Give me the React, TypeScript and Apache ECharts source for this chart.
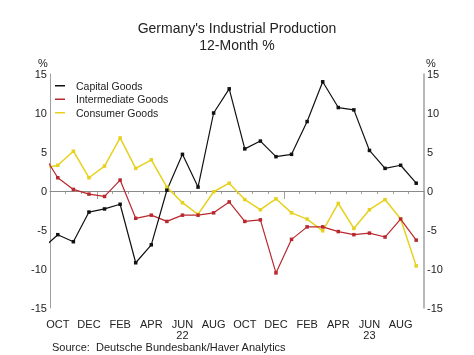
import React, { useEffect, useRef } from 'react';
import * as echarts from 'echarts';

// Months (the first one, SEP-21, lies just left of the plot and is clipped)
const months = ['SEP-21', 'OCT-21', 'NOV-21', 'DEC-21', 'JAN-22', 'FEB-22', 'MAR-22', 'APR-22', 'MAY-22', 'JUN-22', 'JUL-22', 'AUG-22', 'SEP-22', 'OCT-22', 'NOV-22', 'DEC-22', 'JAN-23', 'FEB-23', 'MAR-23', 'APR-23', 'MAY-23', 'JUN-23', 'JUL-23', 'AUG-23', 'SEP-23'];
const capital = [-7.4, -5.6, -6.5, -2.7, -2.3, -1.7, -9.2, -6.9, 0.1, 4.7, 0.5, 10.0, 13.1, 5.4, 6.4, 4.4, 4.7, 8.9, 14.0, 10.7, 10.4, 5.2, 2.9, 3.3, 1.0];
const intermediate = [4.9, 1.7, 0.2, -0.4, -0.7, 1.4, -3.5, -3.1, -3.9, -3.1, -3.1, -2.8, -1.4, -3.9, -3.7, -10.5, -6.2, -4.6, -4.6, -5.2, -5.6, -5.4, -5.9, -3.6, -6.3];
const consumer = [2.9, 3.3, 5.1, 1.7, 3.2, 6.8, 2.9, 4.0, 0.5, -1.5, -3.0, -0.1, 1.0, -1.1, -2.4, -1.0, -2.8, -3.6, -5.1, -1.6, -4.8, -2.4, -1.1, -3.6, -9.6];
const yMin = -15;
const yMax = 15;
const yStep = 5;

const FONT = "'Liberation Sans', Arial, Helvetica, sans-serif";
const AXIS_COLOR = '#a0a0a0';

export default function App() {
  const ref = useRef<HTMLDivElement>(null);
  useEffect(() => {
    if (!ref.current) return;
    const chart = echarts.init(ref.current, undefined, { renderer: 'svg' });
    const categories = months.slice(1);
    const toPts = (vals: number[]) => vals.map((v, i) => [i - 0.5, v]);
    const lineSeries = (name: string, vals: number[], color: string, width: number) => ({
      name,
      type: 'line',
      xAxisIndex: 2,
      yAxisIndex: 0,
      data: toPts(vals),
      clip: true,
      symbol: 'rect',
      symbolSize: 3.5,
      showSymbol: true,
      itemStyle: { color },
      lineStyle: { color, width },
      z: 3,
    });
    const option: any = {
      animation: false,
      textStyle: { fontFamily: FONT },
      title: {
        text: "Germany's Industrial Production\n12-Month %",
        left: 'center',
        top: 14,
        textStyle: { fontSize: 14, fontWeight: 'normal', color: '#222', lineHeight: 17, fontFamily: FONT },
      },
      legend: {
        orient: 'vertical',
        left: 55,
        top: 79,
        padding: 0,
        itemWidth: 10,
        itemHeight: 1.5,
        itemGap: 0,
        data: [
          { name: 'Capital Goods', icon: 'rect' },
          { name: 'Intermediate Goods', icon: 'rect' },
          { name: 'Consumer Goods', icon: 'rect' },
        ],
        textStyle: { fontSize: 10.5, color: '#222', lineHeight: 13.5, padding: [0, 0, 0, 6], fontFamily: FONT },
      },
      grid: { left: 50, right: 50, top: 74, bottom: 47 },
      xAxis: [
        {
          type: 'category',
          data: categories,
          boundaryGap: true,
          position: 'bottom',
          axisLine: { show: true, lineStyle: { color: AXIS_COLOR, width: 1 } },
          axisTick: { show: true, interval: 0, length: 3, lineStyle: { color: AXIS_COLOR } },
          axisLabel: {
            interval: (index: number) => index % 2 === 0,
            margin: 10,
            fontSize: 11,
            color: '#222',
            lineHeight: 11,
            fontFamily: FONT,
            formatter: (value: string) => {
              const [m, y] = value.split('-');
              return m === 'JUN' ? `${m}\n${y}` : m;
            },
          },
          splitLine: { show: false },
        },
        {
          type: 'category',
          data: categories,
          boundaryGap: true,
          position: 'bottom',
          axisLine: { show: false },
          axisTick: {
            show: true,
            interval: (index: number, value: string) => value.startsWith('JAN'),
            length: 8,
            lineStyle: { color: AXIS_COLOR },
          },
          axisLabel: { show: false },
          splitLine: { show: false },
        },
        {
          type: 'value',
          min: 0,
          max: categories.length,
          show: false,
          splitLine: { show: false },
        },
      ],
      yAxis: [
        {
          type: 'value',
          position: 'left',
          min: yMin,
          max: yMax,
          interval: yStep,
          axisLine: { show: true, lineStyle: { color: AXIS_COLOR, width: 1 } },
          axisTick: { show: false },
          splitLine: { show: false },
          axisLabel: { fontSize: 11, color: '#222', margin: 3, fontFamily: FONT },
        },
        {
          type: 'value',
          position: 'right',
          min: yMin,
          max: yMax,
          interval: yStep,
          axisLine: { show: true, lineStyle: { color: AXIS_COLOR, width: 1.5 } },
          axisTick: { show: false },
          splitLine: { show: false },
          axisLabel: { fontSize: 11, color: '#222', margin: 3, fontFamily: FONT },
        },
      ],
      graphic: [
        { type: 'text', left: 38, top: 57, style: { text: '%', fontSize: 11, fill: '#222', fontFamily: FONT } },
        { type: 'text', left: 426, top: 57, style: { text: '%', fontSize: 11, fill: '#222', fontFamily: FONT } },
        {
          type: 'text',
          left: 52,
          top: 341,
          style: { text: 'Source:  Deutsche Bundesbank/Haver Analytics', fontSize: 11, fill: '#222', fontFamily: FONT },
        },
      ],
      series: [
        {
          ...lineSeries('Consumer Goods', consumer, '#e6d11e', 1.5),
          markLine: {
            silent: true,
            symbol: 'none',
            label: { show: false },
            lineStyle: { color: '#8a8a8a', width: 1, type: 'solid' },
            data: [{ yAxis: 0 }],
            z: 1,
          },
        },
        lineSeries('Intermediate Goods', intermediate, '#b8282e', 1.2),
        lineSeries('Capital Goods', capital, '#111111', 1.2),
      ],
    };
    chart.setOption(option);
    return () => chart.dispose();
  }, []);
  return <div ref={ref} style={{ position: 'fixed', left: 0, top: 0, width: 474, height: 355 }} />;
}
